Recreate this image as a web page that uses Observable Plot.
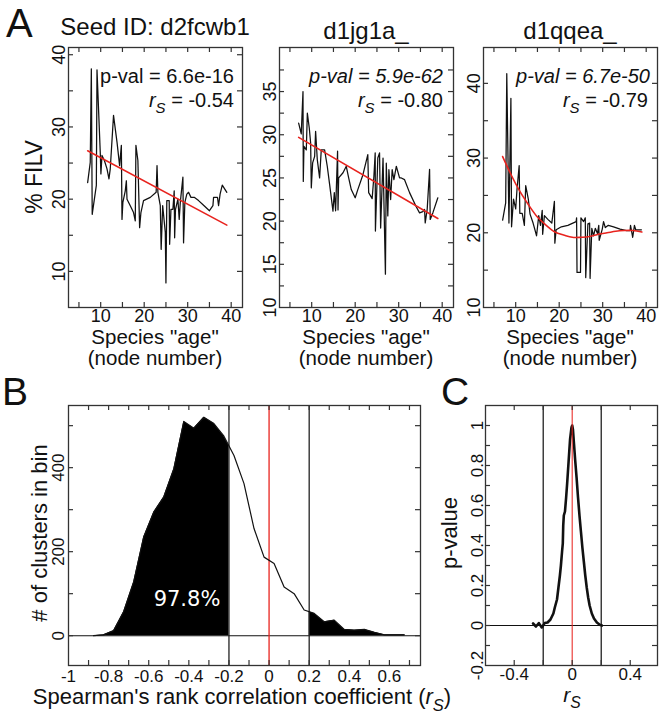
<!DOCTYPE html>
<html><head><meta charset="utf-8">
<script src="https://cdn.jsdelivr.net/npm/d3@7"></script>
<script src="https://cdn.jsdelivr.net/npm/@observablehq/plot@0.6"></script>
<style>
html,body{margin:0;padding:0;background:#fff;}
#fig{position:relative;width:665px;height:713px;overflow:hidden;background:#fff;}
</style></head><body><div id="fig"></div>
<script>
// ---------- DATA ----------
const seedIds = ["Seed ID: d2fcwb1", "d1jg1a_", "d1qqea_"];
const pVals = ["6.6e-16", "5.9e-62", "6.7e-50"];
const rsVals = ["-0.54", "-0.80", "-0.79"];

// Panel A1 (% FILV vs node number)
const a1X = [7,7.6,7.85,8.05,9.0,9.15,9.9,10.05,10.3,10.85,11.45,11.9,12.2,12.95,13.75,14.35,14.75,14.9,15.1,15.65,15.9,16.05,16.8,17.55,17.95,18.1,18.55,18.95,19.25,19.85,21.4,22.75,22.95,23.15,23.7,23.9,24.25,24.85,25.0,25.2,25.75,25.85,26.15,26.6,26.9,27.0,27.2,27.75,28.05,28.3,28.9,29.05,29.35,29.8,30.2,30.75,31.5,32.5,33.65,35.0,35.8,35.95,36.85,37.1,37.45,37.95,39.0];
const a1Y = [22.3,25.1,38.05,17.9,21.9,37.9,26.5,23.5,26.05,25.35,24.2,22.8,24.2,31.6,27.9,24.65,27.45,17.2,19.55,21.15,22.55,20.0,19.1,18.15,17.0,27.45,25.35,16.05,18.15,19.8,20.25,20.95,24.65,20.95,19.1,13.05,19.1,15.4,8.4,19.8,19.8,13.75,18.6,18.6,21.15,14.65,18.6,20.0,17.2,19.55,23.05,13.95,19.55,20.7,20.95,20.25,20.25,19.8,19.15,18.4,19.1,20.25,20.25,19.1,20.7,21.95,20.95];
const fitA1X = [7, 39], fitA1Y = [26.7, 16.4];

// Panel A2
const a2X = [7,7.6,8.0,8.07,8.22,8.76,9.0,9.45,9.76,9.91,10.22,10.68,10.9,11.29,11.82,12.2,12.97,13.58,14.12,14.89,15.2,15.5,15.95,16.05,16.2,17.2,17.95,18.5,19.1,20.0,20.6,21.8,22.9,23.1,23.9,24.3,24.6,24.65,25.2,25.6,25.85,26.4,26.95,27.15,27.5,27.75,28.15,28.5,28.9,29.45,30.2,30.6,31.35,32.5,34.0,34.8,35.55,35.95,36.1,36.55,37.1,37.25,37.85,39.0];
const a2Y = [31.35,30.1,35.0,24.6,28.65,28.25,32.5,30.75,29.05,23.85,26.75,27.5,30.4,27.1,25.0,28.25,28.25,26.35,24.25,21.15,23.3,21.2,28.1,21.3,25.0,25.6,26.35,25.0,23.65,22.7,23.65,25.4,27.7,23.3,22.6,25.2,27.9,18.85,27.3,27.9,19.2,27.3,13.85,26.7,20.6,25.95,22.5,25.95,24.8,26.35,25.0,25.0,24.8,23.3,21.7,20.95,21.1,21.35,19.8,21.35,26.0,20.2,20.95,22.7];
const fitA2X = [7, 39], fitA2Y = [29.7, 20.3];

// Panel A3
const a3X = [7,7.7,7.95,8.45,8.9,9.05,9.5,10.0,10.3,10.8,10.95,11.5,12.0,12.3,12.9,13.3,14.0,14.8,15.3,15.7,16.1,16.2,16.6,17.4,18.3,18.9,19.0,19.3,20.5,22.0,23.9,24.0,24.1,24.9,25.0,25.6,26.0,26.1,26.6,27.0,27.1,27.5,27.9,28.3,28.8,29.1,29.2,29.9,30.2,30.6,31.3,32.5,34.0,35.5,36.3,36.4,36.9,37.3,37.6,38.9];
const a3Y = [21.7,24.0,41.3,21.3,38.0,20.8,24.5,23.2,25.8,29.0,22.6,22.6,21.0,26.3,24.5,22.5,21.3,19.6,22.3,21.0,23.0,19.8,22.3,21.8,21.3,24.2,18.6,20.4,20.8,21.0,21.5,22.0,14.7,14.7,22.0,21.5,22.0,14.0,21.2,21.3,13.9,20.6,19.6,20.6,19.9,21.0,19.0,20.5,21.5,20.7,21.0,20.8,20.5,20.3,20.3,21.0,19.4,21.0,20.4,20.4];
const fitA3X = [7,9,11,13,15,17,19,21,23,25,27,29,31,33,35,37,39];
const fitA3Y = [30.2,27.7,25.5,23.7,22.1,21.0,20.1,19.7,19.4,19.4,19.5,19.8,20.0,20.2,20.3,20.3,20.1];

// Panel B (histogram of Spearman r_s)
const bX = [-0.875,-0.825,-0.775,-0.725,-0.675,-0.625,-0.575,-0.525,-0.475,-0.425,-0.375,-0.325,-0.275,-0.225,-0.175,-0.125,-0.075,-0.025,0.025,0.075,0.125,0.175,0.225,0.275,0.325,0.375,0.425,0.475,0.525,0.575,0.625,0.675];
const bY = [0,2,12,57,128,235,294,330,397,510,494,520,505,475,429,362,255,187,172,116,100,61,53,33,37,15,13,15,8,2,2,2];
const bThresholds = [-0.2, 0.2];
const bPercent = "97.8%";

// Panel C (p-value vs r_s)
const cX = [-0.27,-0.25,-0.23,-0.21,-0.19,-0.17,-0.15,-0.13,-0.12,-0.105,-0.095,-0.085,-0.078,-0.07,-0.065,-0.062,-0.058,-0.05,-0.042,-0.035,-0.025,-0.015,-0.005,0,0.005,0.012,0.02,0.03,0.04,0.05,0.06,0.07,0.08,0.09,0.1,0.11,0.12,0.135,0.15,0.17,0.19,0.205];
const cY = [0.01,-0.005,0.012,-0.01,0.012,0.015,0.03,0.06,0.09,0.13,0.19,0.25,0.3,0.37,0.41,0.5,0.55,0.57,0.64,0.71,0.82,0.93,0.99,1.0,0.98,0.91,0.83,0.74,0.64,0.55,0.47,0.39,0.32,0.25,0.19,0.14,0.1,0.06,0.035,0.015,0.004,0];

// Tick values
const aXLabels = [10,20,30,40], aXMinor = [5,10,15,20,25,30,35,40];
const a1YLabels = [10,20,30,40], a1YMinor = [10,15,20,25,30,35,40];
const a2YLabels = [10,15,20,25,30,35], a2YMinor = [12.5,15,17.5,20,22.5,25,27.5,30,32.5,35,37.5];
const a3YLabels = [10,20,30,40], a3YMinor = [15,20,25,30,35,40];
const bXLabels = [-1,-0.8,-0.6,-0.4,-0.2,0,0.2,0.4,0.6];
const bXMinor = [-0.9,-0.8,-0.7,-0.6,-0.5,-0.4,-0.3,-0.2,-0.1,0,0.1,0.2,0.3,0.4,0.5,0.6,0.7];
const bYLabels = [0,200,400], bYMinor = [0,100,200,300,400,500];
const cXLabels = [-0.4,0,0.4], cXMinor = [-0.4,-0.2,0,0.2,0.4];
const cYLabels = [-0.2,0,0.2,0.4,0.6,0.8,1];
const cYMinor = [-0.1,0,0.1,0.2,0.3,0.4,0.5,0.6,0.7,0.8,0.9,1.0];

// ---------- DRAWING ----------
const FONT = "'Liberation Sans', Arial, Helvetica, sans-serif";
const RED = "#e8231e";
const INK = "#111";
const fig = document.getElementById("fig");
const zip = (xs, ys) => xs.map((x, i) => ({x, y: ys[i]}));

function panel(o) {
  const fw = o.width - o.ml - o.mr, fh = o.height - o.mt - o.mb, tl = 5;
  const ts = {stroke: "#333", strokeWidth: 1.2};
  const svg = Plot.plot({
    width: o.width, height: o.height,
    marginLeft: o.ml, marginTop: o.mt, marginRight: o.mr, marginBottom: o.mb,
    x: {domain: o.xDomain}, y: {domain: o.yDomain},
    style: `font-family:${FONT};font-size:${o.tickFont}px;background:transparent;overflow:visible;color:${INK};`,
    marks: [
      ...o.marks,
      Plot.tickX(o.xMinor, {x: d => d, insetTop: fh - tl, ...ts}),
      Plot.tickX(o.xMinor, {x: d => d, insetBottom: fh - tl, ...ts}),
      Plot.tickY(o.yMinor, {y: d => d, insetRight: fw - tl, ...ts}),
      Plot.tickY(o.yMinor, {y: d => d, insetLeft: fw - tl, ...ts}),
      Plot.axisX(o.xLabels, {tickSize: 0, tickPadding: o.xPad, fontSize: o.tickFont, label: null, tickFormat: d => String(d)}),
      Plot.axisY(o.yLabels, {tickSize: 0, tickPadding: o.yPad, tickRotate: -90, fontSize: o.tickFont, label: null, tickFormat: d => String(d)}),
      Plot.frame({stroke: "#333", strokeWidth: 1.3})
    ]
  });
  svg.style.position = "absolute";
  svg.style.left = o.left + "px";
  svg.style.top = o.top + "px";
  fig.appendChild(svg);
}

const aPanels = [
  {left: 0, data: zip(a1X, a1Y), fit: zip(fitA1X, fitA1Y), yDomain: [5, 41], yLabels: a1YLabels, yMinor: a1YMinor, curve: "linear"},
  {left: 211, data: zip(a2X, a2Y), fit: zip(fitA2X, fitA2Y), yDomain: [10, 40.1], yLabels: a2YLabels, yMinor: a2YMinor, curve: "linear"},
  {left: 415, data: zip(a3X, a3Y), fit: zip(fitA3X, fitA3Y), yDomain: [10, 44.8], yLabels: a3YLabels, yMinor: a3YMinor, curve: "natural"}
];
aPanels.forEach(p => panel({
  left: p.left, top: 0, width: 250, height: 330, ml: 68, mt: 47, mr: 8, mb: 23,
  xDomain: [2.6, 42.6], yDomain: p.yDomain,
  xLabels: aXLabels, xMinor: aXMinor, yLabels: p.yLabels, yMinor: p.yMinor,
  tickFont: 18, xPad: 2, yPad: 4,
  marks: [
    Plot.line(p.data, {x: "x", y: "y", stroke: INK, strokeWidth: 1.25}),
    Plot.line(p.fit, {x: "x", y: "y", stroke: RED, strokeWidth: 1.6, curve: p.curve})
  ]
}));

// Panel B: clip filled parts at thresholds
const bPts = zip(bX, bY);
function side(pts, t, keepLeft) {
  const out = pts.filter(p => keepLeft ? p.x <= t : p.x >= t);
  for (let i = 0; i < pts.length - 1; i++) {
    const a = pts[i], b = pts[i + 1];
    if ((a.x - t) * (b.x - t) < 0) {
      const y = a.y + (b.y - a.y) * (t - a.x) / (b.x - a.x);
      if (keepLeft) out.push({x: t, y}); else out.unshift({x: t, y});
    }
  }
  return out;
}
panel({
  left: 0, top: 400, width: 430, height: 290, ml: 68, mt: 5, mr: 10, mb: 25,
  xDomain: [-1.0, 0.755], yDomain: [-71, 548],
  xLabels: bXLabels, xMinor: bXMinor, yLabels: bYLabels, yMinor: bYMinor,
  tickFont: 17, xPad: 4, yPad: 5,
  marks: [
    Plot.areaY(side(bPts, bThresholds[0], true), {x: "x", y: "y", fill: "#000"}),
    Plot.areaY(side(bPts, bThresholds[1], false), {x: "x", y: "y", fill: "#000"}),
    Plot.ruleY([0], {stroke: INK, strokeWidth: 1.1}),
    Plot.ruleX(bThresholds, {stroke: "#222", strokeWidth: 1.3}),
    Plot.ruleX([0], {stroke: RED, strokeWidth: 1.3}),
    Plot.line(bPts, {x: "x", y: "y", stroke: INK, strokeWidth: 1.2})
  ]
});

// Panel C
panel({
  left: 440, top: 400, width: 225, height: 290, ml: 45, mt: 5, mr: 8, mb: 25,
  xDomain: [-0.598, 0.588], yDomain: [-0.2, 1.1],
  xLabels: cXLabels, xMinor: cXMinor, yLabels: cYLabels, yMinor: cYMinor,
  tickFont: 17, xPad: 2, yPad: 3,
  marks: [
    Plot.ruleX([-0.2, 0.2], {stroke: "#222", strokeWidth: 1.3}),
    Plot.line(zip(cX, cY), {x: "x", y: "y", stroke: INK, strokeWidth: 2.6}),
    Plot.ruleY([0], {stroke: INK, strokeWidth: 1.1}),
    Plot.ruleX([0], {stroke: RED, strokeWidth: 1.3, strokeOpacity: 0.8})
  ]
});

// ---------- TEXT OVERLAY ----------
const ov = d3.select(fig).append("svg")
  .attr("width", 665).attr("height", 713)
  .style("position", "absolute").style("left", "0px").style("top", "0px")
  .style("overflow", "visible")
  .attr("font-family", FONT).attr("fill", INK);

function txt(x, y, s, {size = 20, anchor = "start", rotate = 0, italic = false, fill = INK, family = null} = {}) {
  const t = ov.append("text")
    .attr("transform", `translate(${x},${y})` + (rotate ? ` rotate(${rotate})` : ""))
    .attr("text-anchor", anchor).attr("font-size", size).attr("fill", fill)
    .text(s);
  if (italic) t.attr("font-style", "italic");
  if (family) t.attr("font-family", family);
  return t;
}
function rsText(x, y, prefix, rest, {size = 20, anchor = "end", rotate = 0} = {}) {
  const t = ov.append("text")
    .attr("transform", `translate(${x},${y})` + (rotate ? ` rotate(${rotate})` : ""))
    .attr("text-anchor", anchor).attr("font-size", size);
  if (prefix) t.append("tspan").text(prefix);
  t.append("tspan").attr("font-style", "italic").text("r");
  t.append("tspan").attr("font-style", "italic").attr("font-size", size * 0.75).attr("dy", size * 0.3).text("S");
  if (rest) t.append("tspan").attr("dy", -size * 0.3).text(rest);
  return t;
}

// panel letters
txt(6, 37, "A", {size: 40});
txt(2, 405, "B", {size: 39});
txt(441, 405, "C", {size: 39});

// A titles
const aCenters = [155, 366, 570];
const titleBase = [35, 39, 39];
seedIds.forEach((s, i) => txt(aCenters[i], titleBase[i], s, {size: 24, anchor: "middle"}));

// A annotations
const annRight = [234, 443, 650];
pVals.forEach((p, i) => {
  txt(annRight[i], 83, "p-val = " + p, {size: 20, anchor: "end", italic: i > 0});
  rsText(annRight[i] - (i === 2 ? 2 : 0), 107, null, " = " + rsVals[i], {size: 20});
});

// A axis titles
aCenters.forEach(c => {
  txt(c, 344, 'Species "age"', {size: 20.5, anchor: "middle"});
  txt(c, 365, "(node number)", {size: 20.5, anchor: "middle"});
});
txt(42, 177, "% FILV", {size: 23, anchor: "middle", rotate: -90});

// B texts
txt(47, 533, "# of clusters in bin", {size: 22, anchor: "middle", rotate: -90});
rsText(242, 704, "Spearman's rank correlation coefficient (", ")", {size: 22, anchor: "middle"});
txt(187, 606, bPercent, {size: 21, anchor: "middle", fill: "#fff", family: "'DejaVu Sans', sans-serif"});

// C texts
txt(457, 533, "p-value", {size: 22, anchor: "middle", rotate: -90});
rsText(572, 702, null, null, {size: 21, anchor: "middle"});
</script>
</body></html>
